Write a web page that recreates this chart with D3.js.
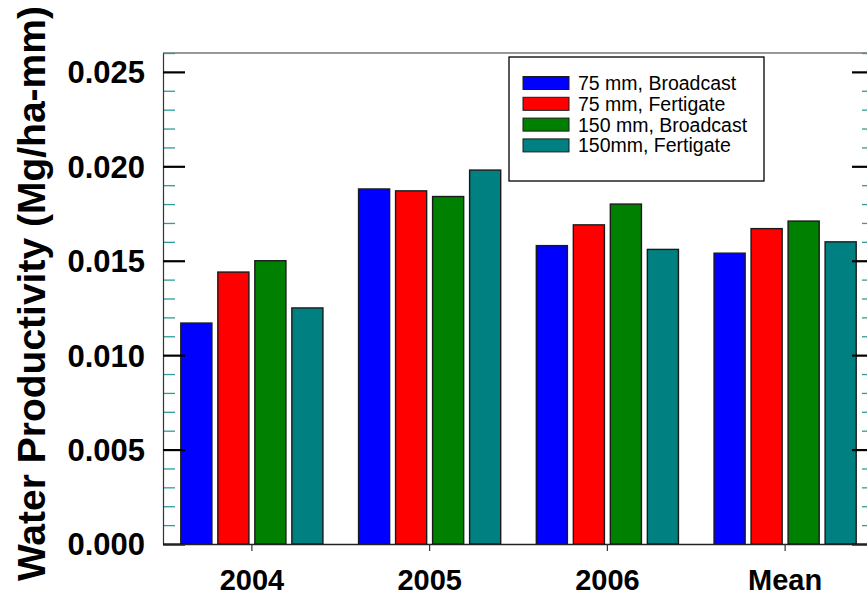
<!DOCTYPE html>
<html>
<head>
<meta charset="utf-8">
<script src="https://cdn.jsdelivr.net/npm/d3@7"></script>
<style>
  html, body { margin: 0; padding: 0; background: #fff; }
  svg { display: block; font-family: "Liberation Sans", Arial, sans-serif; }
</style>
</head>
<body>
<svg id="chart" width="867" height="596"></svg>
<script>
// Water productivity by year and treatment
const categories = ["2004", "2005", "2006", "Mean"];
const seriesNames = ["75 mm, Broadcast", "75 mm, Fertigate", "150 mm, Broadcast", "150mm, Fertigate"];
const seriesColors = ["#0000ff", "#ff0000", "#008000", "#008080"];
const broadcast75 = [0.0117, 0.0188, 0.0158, 0.0154];
const fertigate75 = [0.0144, 0.0187, 0.0169, 0.0167];
const broadcast150 = [0.0150, 0.0184, 0.0180, 0.0171];
const fertigate150 = [0.0125, 0.0198, 0.0156, 0.0160];
const majorTicks = [0.000, 0.005, 0.010, 0.015, 0.020, 0.025];
const yLabel = "Water Productivity (Mg/ha-mm)";

const seriesValues = [broadcast75, fertigate75, broadcast150, fertigate150];

const svg = d3.select("#chart");
const plotLeft = 163, plotRight = 874, plotTop = 53, plotBottom = 544;

const y = d3.scaleLinear().domain([0, 0.026]).range([plotBottom, plotTop]);
const x0 = d3.scaleBand().domain(categories).range([plotLeft, plotRight])
  .paddingInner(0.167).paddingOuter(0.0835);
const x1 = d3.scaleBand().domain(d3.range(seriesNames.length)).range([0, x0.bandwidth()])
  .paddingInner(0.16).paddingOuter(0.08);

const minorTicks = d3.range(0, 27).map(i => i / 1000).filter(v => Math.round(v * 1000) % 5 !== 0);

// bars
const groups = svg.append("g").selectAll("g").data(categories).join("g")
  .attr("transform", d => `translate(${x0(d)},0)`);
groups.selectAll("rect")
  .data((c, ci) => seriesValues.map((vals, si) => ({ si, v: vals[ci] })))
  .join("rect")
  .attr("x", d => x1(d.si))
  .attr("width", x1.bandwidth())
  .attr("y", d => y(d.v))
  .attr("height", d => y(0) - y(d.v))
  .attr("fill", d => seriesColors[d.si])
  .attr("stroke", "#1a1a1a")
  .attr("stroke-width", 1.4);

// top frame line
svg.append("line").attr("x1", plotLeft).attr("x2", plotRight).attr("y1", plotTop).attr("y2", plotTop)
  .attr("stroke", "#333").attr("stroke-width", 1.2);

// left axis: minor, then major with labels
const minorL = svg.append("g").attr("transform", `translate(${plotLeft},0)`)
  .call(d3.axisLeft(y).tickValues(minorTicks).tickSize(-12).tickSizeOuter(0).tickFormat(""));
minorL.select(".domain").remove();
minorL.selectAll(".tick line").attr("stroke", "#2e9c9c").attr("stroke-width", 1.3);

const majorL = svg.append("g").attr("transform", `translate(${plotLeft},0)`)
  .call(d3.axisLeft(y).tickValues(majorTicks).tickSize(-22).tickSizeOuter(0)
    .tickPadding(18).tickFormat(d3.format(".3f")));
majorL.select(".domain").attr("stroke", "#333").attr("stroke-width", 1.2);
majorL.selectAll(".tick line").attr("stroke", "#000").attr("stroke-width", 2.2);
majorL.selectAll(".tick text").attr("font-size", 31).attr("font-weight", "bold")
  .attr("fill", "#000").attr("dy", "0.35em");

// right axis ticks
const minorR = svg.append("g").attr("transform", `translate(${plotRight},0)`)
  .call(d3.axisRight(y).tickValues(minorTicks).tickSize(-12).tickSizeOuter(0).tickFormat(""));
minorR.select(".domain").remove();
minorR.selectAll(".tick line").attr("stroke", "#2e9c9c").attr("stroke-width", 1.3);
const majorR = svg.append("g").attr("transform", `translate(${plotRight},0)`)
  .call(d3.axisRight(y).tickValues(majorTicks).tickSize(-22).tickSizeOuter(0).tickFormat(""));
majorR.select(".domain").attr("stroke", "#333").attr("stroke-width", 1.2);
majorR.selectAll(".tick line").attr("stroke", "#000").attr("stroke-width", 2.2);

// bottom axis
const xAxis = svg.append("g").attr("transform", `translate(0,${plotBottom})`)
  .call(d3.axisBottom(x0).tickSize(7).tickSizeOuter(0).tickPadding(18));
xAxis.select(".domain").attr("stroke", "#222").attr("stroke-width", 1.5);
xAxis.selectAll(".tick line").attr("stroke", "#333").attr("stroke-width", 1.2);
xAxis.selectAll(".tick text").attr("font-size", 29).attr("font-weight", "bold").attr("fill", "#000");

// y-axis title
svg.append("text")
  .attr("transform", "rotate(-90)")
  .attr("x", -581).attr("y", 45)
  .attr("text-anchor", "start")
  .attr("font-size", 39).attr("font-weight", "bold").attr("fill", "#000")
  .text(yLabel);

// legend
const legend = svg.append("g");
legend.append("rect").attr("x", 509).attr("y", 57).attr("width", 255).attr("height", 124)
  .attr("fill", "#fff").attr("stroke", "#000").attr("stroke-width", 1.3);
const rows = legend.selectAll("g.row").data(seriesNames).join("g").attr("class", "row")
  .attr("transform", (d, i) => `translate(0,${83 + i * 20.8})`);
rows.append("rect").attr("x", 523).attr("y", -6.5).attr("width", 46).attr("height", 13)
  .attr("fill", (d, i) => seriesColors[i]).attr("stroke", "#1a1a1a").attr("stroke-width", 1);
rows.append("text").attr("x", 578).attr("y", 0).attr("dy", "0.36em")
  .attr("font-size", 19.5).attr("fill", "#000").text(d => d);
</script>
</body>
</html>
